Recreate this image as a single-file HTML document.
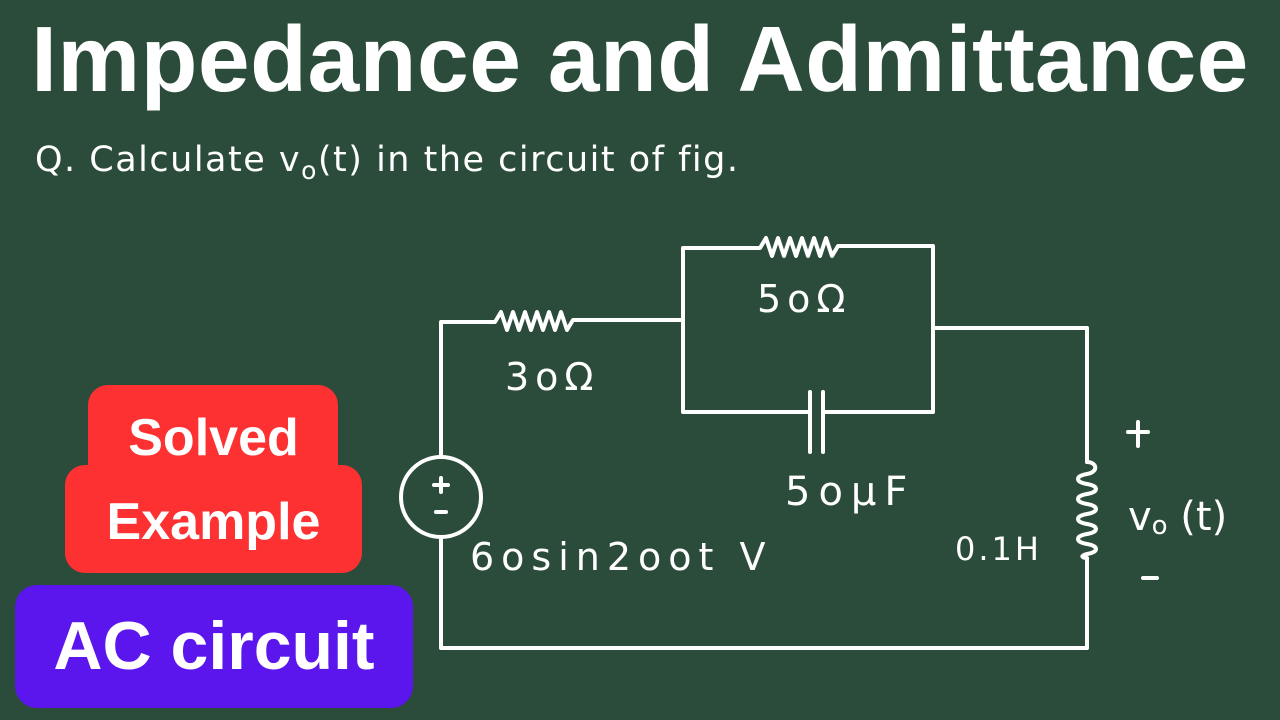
<!DOCTYPE html>
<html><head><meta charset="utf-8"><style>
body{margin:0;width:1280px;height:720px;background:#2c4c3b;overflow:hidden;position:relative;font-family:"Liberation Sans",sans-serif}
.t{position:absolute;left:0;width:1280px;top:6px;text-align:center;color:#fff;font-weight:bold;font-size:93px;letter-spacing:0.5px}
.q{position:absolute;left:35px;top:140px;color:#fff;font-size:35px;font-family:"DejaVu Sans",sans-serif;letter-spacing:1.5px}
.r1{position:absolute;left:88px;top:385px;width:250px;height:110px;background:#fd3131;border-radius:20px}
.r2{position:absolute;left:65px;top:465px;width:297px;height:108px;background:#fd3131;border-radius:20px}
.rt{position:absolute;left:65px;width:297px;text-align:center;color:#fff;font-weight:bold;font-size:52px}
.p{position:absolute;left:15px;top:585px;width:398px;height:123px;background:#5b16ee;border-radius:22px;color:#fff;font-weight:bold;font-size:68px;text-align:center;line-height:123px}
svg{position:absolute;left:0;top:0}
svg text{font-family:"DejaVu Sans",sans-serif;fill:#fff}
</style></head><body>
<div class="t">Impedance and Admittance</div>
<div class="q">Q. Calculate v<sub style="font-size:25px">o</sub>(t) in the circuit of fig.</div>
<div class="r1"></div><div class="r2"></div>
<div class="rt" style="top:408px">Solved</div>
<div class="rt" style="top:492px">Example</div>
<div class="p">AC circuit</div>
<svg width="1280" height="720" fill="none" stroke="#fff" stroke-width="4" stroke-linecap="round" stroke-linejoin="round">
<path d="M441 457 V322 H495 l6 -10 l6 18 l6 -18 l6 18 l6 -18 l6 18 l6 -18 l6 18 l6 -18 l6 18 l6 -18 l6 18 l6 -10 H683"/>
<path d="M683 322 V248 H760 l6 -10 l6 18 l6 -18 l6 18 l6 -18 l6 18 l6 -18 l6 18 l6 -18 l6 18 l6 -18 l6 18 l6 -10 H933 V412 H823 M810 412 H683 V322"/>
<path d="M810 392 V452 M823 392 V452"/>
<path d="M933 328 H1087 V462"/>
<path d="M1087 462 c10 0 12 10 0 12 c-12 2 -12 8 0 10 c12 2 12 8 0 10 c-12 2 -12 8 0 10 c12 2 12 8 0 10 c-12 2 -12 8 0 10 c12 2 12 8 0 10 c-12 2 -12 8 0 10 c12 2 12 8 0 10 c-8 2 -4 4 0 4 V648 H441 V537"/>
<circle cx="441" cy="497" r="40"/>
<path d="M441 478 V492 M434 485 H448 M436 512 H446" />
<path d="M1138 422 V446 M1128 432 H1148 M1143 578 H1157"/>
<text x="757" y="312" font-size="38" stroke="none" letter-spacing="6">5oΩ</text>
<text x="505" y="390" font-size="38" stroke="none" letter-spacing="6">3oΩ</text>
<text x="785" y="505" font-size="40" stroke="none" letter-spacing="8">5oμF</text>
<text x="955" y="560" font-size="32" stroke="none" letter-spacing="3">0.1H</text>
<text x="470" y="570" font-size="38" stroke="none" letter-spacing="7">6osin2oot V</text>
<text x="1128" y="530" font-size="40" stroke="none">v<tspan font-size="26" dy="4">o</tspan><tspan dy="-4"> (t)</tspan></text>
</svg>
</body></html>
